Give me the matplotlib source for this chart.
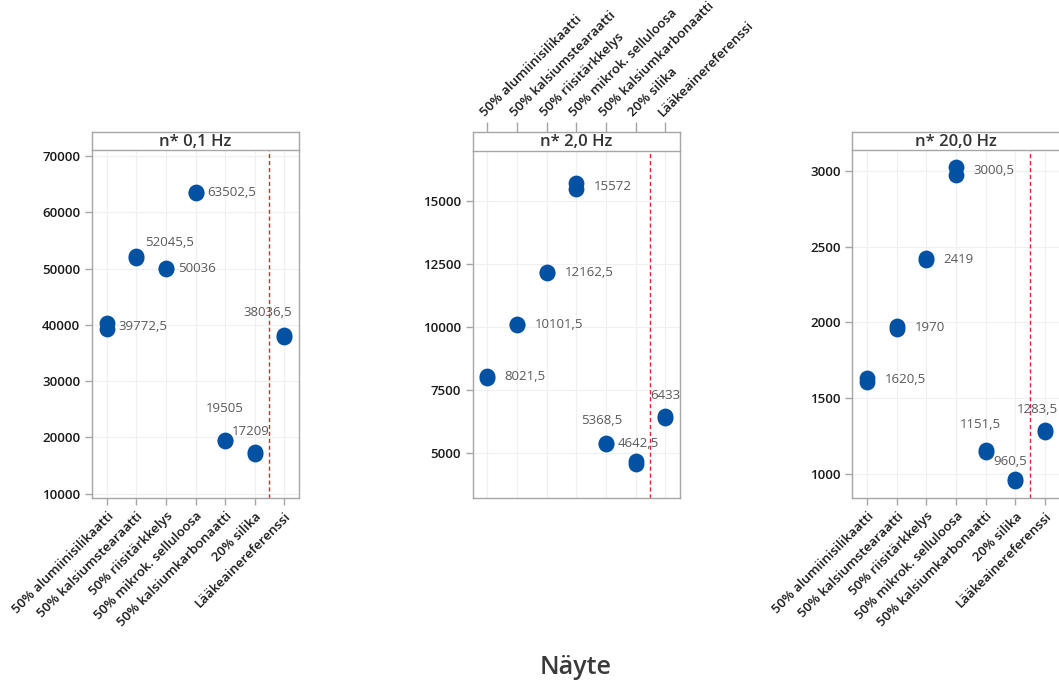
import numpy as np
import matplotlib
matplotlib.use('Agg')
import matplotlib.pyplot as plt

# categories (samples)
categories = ['50% alumiinisilikaatti', '50% kalsiumstearaatti', '50% riisitärkkelys',
              '50% mikrok. selluloosa', '50% kalsiumkarbonaatti', '20% silika',
              'Lääkeainereferenssi']

panel_titles = ['n* 0,1 Hz', 'n* 2,0 Hz', 'n* 20,0 Hz']

# replicate measurements (two per sample)
rep1_01hz = [40350, 52200, 50100, 63600, 19600, 17450, 38250]
rep2_01hz = [39195, 51891, 49972, 63405, 19410, 16968, 37823]

rep1_2hz = [8050, 10130, 12190, 15680, 5395, 4700, 6460]
rep2_2hz = [7993, 10073, 12135, 15464, 5342, 4585, 6406]

rep1_20hz = [1635, 1980, 2428, 3025, 1160, 966, 1290]
rep2_20hz = [1606, 1960, 2410, 2976, 1143, 955, 1277]

yticks_01hz = [10000, 20000, 30000, 40000, 50000, 60000, 70000]
yticks_2hz = [5000, 7500, 10000, 12500, 15000]
yticks_20hz = [1000, 1500, 2000, 2500, 3000]

# style / layout
W, H = 1059, 687
blue = '#0351A3'
grey_line = '#a6a6a6'
plt.rcParams['font.family'] = ['Open Sans', 'DejaVu Sans']

fig = plt.figure(figsize=(W / 100, H / 100), dpi=100)

def fig_rect(left, top, right, bottom):
    return [left / W, 1 - bottom / H, (right - left) / W, (bottom - top) / H]

# pixel boxes for each panel: (left, strip top, plot top, right, bottom)
boxes = [(92, 132, 150, 299, 498),
         (472.5, 132, 151, 680, 498),
         (852.3, 132, 150, 1059.8, 498)]
ylims = [(9217, 71068), (3219, 16967), (841, 3139)]

# label offsets in pixels (ggrepel placement)
offsets = [
    [(12, 0, 'left'), (9, 15, 'left'), (12, 0, 'left'), (12, 0, 'left'), (0, 32, 'center'), (-4, 22, 'center'), (-16, 23, 'center')],
    [(17, 0, 'left'), (18, 0, 'left'), (18, 0, 'left'), (18, 0, 'left'), (-4, 23, 'center'), (3, 19, 'center'), (0, 21, 'center')],
    [(18, 0, 'left'), (18, 0, 'left'), (17, 0, 'left'), (17, 0, 'left'), (-5, 26, 'center'), (-5, 18, 'center'), (-8, 21, 'center')],
]

reps = [(rep1_01hz, rep2_01hz), (rep1_2hz, rep2_2hz), (rep1_20hz, rep2_20hz)]
yticks_all = [yticks_01hz, yticks_2hz, yticks_20hz]

x = np.arange(len(categories))

def fmt(v):
    if v == int(v):
        return str(int(v))
    return '{:.1f}'.format(v).replace('.', ',')

for i in range(3):
    left, stop, ptop, right, bottom = boxes[i]
    ax = fig.add_axes(fig_rect(left, ptop, right, bottom))
    r1, r2 = reps[i]

    ax.scatter(x, r1, s=130, color=blue, zorder=3, linewidths=0)
    ax.scatter(x, r2, s=130, color=blue, zorder=3, linewidths=0)

    med = np.median(np.vstack([r1, r2]), axis=0)
    for j in range(len(categories)):
        dx, dy, ha = offsets[i][j]
        ax.annotate(fmt(med[j]), (x[j], med[j]), xytext=(dx, dy), textcoords='offset pixels',
                    ha=ha, va='center', fontsize=9.5, color='#595959', zorder=4)

    ax.axvline(5.5, color='#e8262a', lw=1, ls=(0, (3, 2)), zorder=2)

    ax.set_xlim(-0.5, 6.5)
    ax.set_ylim(*ylims[i])
    ax.set_yticks(yticks_all[i])
    ax.set_xticks(x)
    ax.grid(True, color='#f0f0f0', lw=0.9, zorder=0)
    ax.set_axisbelow(True)

    for sp in ax.spines.values():
        sp.set_color(grey_line)
        sp.set_linewidth(1)
    ax.spines['top'].set_visible(False)

    ax.tick_params(axis='y', colors=grey_line, length=5, width=1, labelcolor='#1a1a1a', labelsize=9.5)
    for lab in ax.get_yticklabels():
        lab.set_fontweight('semibold')

    # strip header
    sax = fig.add_axes(fig_rect(left, stop, right, ptop))
    sax.set_xlim(-0.5, 6.5)
    sax.set_yticks([])
    for sp in sax.spines.values():
        sp.set_color(grey_line)
        sp.set_linewidth(1)
    sax.text(0.5, 0.45, panel_titles[i], ha='center', va='center', fontsize=12,
             fontweight='semibold', color='#333333', transform=sax.transAxes)

    if i == 1:
        # sample names on top of the middle panel, above the strip
        ax.tick_params(axis='x', length=0, labelbottom=False)
        sax.set_xticks(x)
        sax.tick_params(axis='x', top=True, bottom=False, labeltop=True, labelbottom=False,
                        colors=grey_line, length=7, width=1, labelcolor='#1a1a1a', labelsize=9.5, pad=2)
        sax.set_xticklabels(categories, rotation=45, ha='left', rotation_mode='anchor', fontweight='semibold')
    else:
        sax.set_xticks([])
        ax.tick_params(axis='x', colors=grey_line, length=5, width=1, labelcolor='#1a1a1a', labelsize=9.5)
        ax.set_xticklabels(categories, rotation=45, ha='right', rotation_mode='anchor', fontweight='semibold')

fig.text(576 / W, 1 - 668 / H, 'Näyte', ha='center', va='center', fontsize=18,
         fontweight='semibold', color='#3a3a3a')

fig.savefig('out.png', dpi=100)
